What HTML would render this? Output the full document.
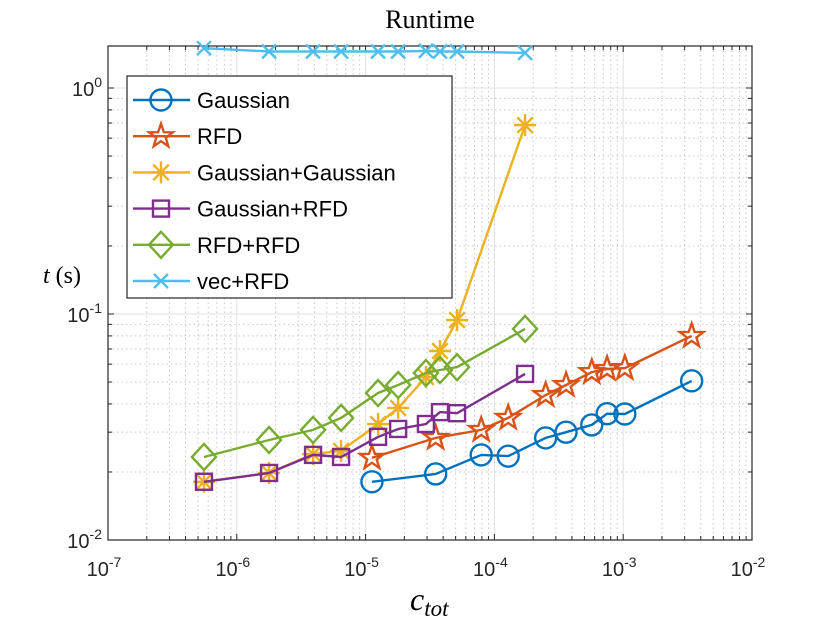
<!DOCTYPE html>
<html><head><meta charset="utf-8"><style>
body{margin:0;background:#fff;}
svg{display:block;}
</style></head><body>
<svg id="chart" width="830" height="623" xmlns="http://www.w3.org/2000/svg"></svg>
<script>
const xTickExps = [-7,-6,-5,-4,-3,-2];
const yTickExps = [-2,-1,0];
const seriesNames = ["Gaussian","RFD","Gaussian+Gaussian","Gaussian+RFD","RFD+RFD","vec+RFD"];
const xGauss = [1.12e-5,3.5e-5,7.9e-5,1.28e-4,2.5e-4,3.6e-4,5.7e-4,7.5e-4,1.03e-3,3.4e-3];
const yGauss = [0.0181,0.0196,0.0238,0.0235,0.0283,0.0300,0.0323,0.0362,0.0361,0.0506];
const xRFD = [1.12e-5,3.5e-5,7.9e-5,1.28e-4,2.5e-4,3.6e-4,5.7e-4,7.5e-4,1.03e-3,3.4e-3];
const yRFD = [0.0231,0.0283,0.0307,0.0347,0.0438,0.0485,0.0553,0.0571,0.0576,0.080];
const xGG = [5.56e-7,1.78e-6,3.91e-6,6.45e-6,1.25e-5,1.79e-5,2.94e-5,3.78e-5,5.13e-5,1.73e-4];
const yGG = [0.0181,0.0198,0.0240,0.0248,0.0326,0.0384,0.0526,0.0686,0.094,0.685];
const xGR = [5.56e-7,1.78e-6,3.91e-6,6.45e-6,1.25e-5,1.79e-5,2.94e-5,3.78e-5,5.13e-5,1.73e-4];
const yGR = [0.0181,0.0198,0.0238,0.0233,0.0286,0.031,0.0326,0.0368,0.0364,0.0543];
const xRR = [5.56e-7,1.78e-6,3.91e-6,6.45e-6,1.25e-5,1.79e-5,2.94e-5,3.78e-5,5.13e-5,1.73e-4];
const yRR = [0.0233,0.0277,0.0307,0.0347,0.0447,0.0485,0.0548,0.0565,0.0582,0.0859];
const xVec = [5.56e-7,1.78e-6,3.91e-6,6.45e-6,1.25e-5,1.79e-5,2.94e-5,3.78e-5,5.13e-5,1.73e-4];
const yVec = [1.50,1.45,1.45,1.45,1.45,1.45,1.46,1.45,1.45,1.43];

const NS="http://www.w3.org/2000/svg";
const svg=document.getElementById('chart');
const L=108,R=752,T=46,B=540;
const xMinE=-7,xMaxE=-2,yMinE=-2,yTopE=-2+(B-T)/226;
function X(v){return L+(Math.log10(v)-xMinE)/(xMaxE-xMinE)*(R-L);}
function Y(v){return B-(Math.log10(v)-yMinE)/(yTopE-yMinE)*(B-T);}
function el(tag,attrs,parent){const e=document.createElementNS(NS,tag);for(const k in attrs)e.setAttribute(k,attrs[k]);(parent||svg).appendChild(e);return e;}

const grid=el('g',{});


for(let e=xMinE;e<xMaxE;e++){for(let m=2;m<=9;m++){const x=X(m*Math.pow(10,e));el('line',{x1:x,x2:x,y1:T,y2:B,stroke:'#c8c8c8','stroke-width':1,'stroke-dasharray':'1.5,3'},grid);}}
for(let e=yMinE;e<=0;e++){for(let m=2;m<=9;m++){const y=Y(m*Math.pow(10,e));if(y<T)continue;el('line',{x1:L,x2:R,y1:y,y2:y,stroke:'#c8c8c8','stroke-width':1,'stroke-dasharray':'1.5,3'},grid);}}
xTickExps.forEach(e=>{const x=X(Math.pow(10,e));el('line',{x1:x,x2:x,y1:T,y2:B,stroke:'#e0e0e0','stroke-width':1},grid);});
yTickExps.forEach(e=>{const y=Y(Math.pow(10,e));el('line',{x1:L,x2:R,y1:y,y2:y,stroke:'#e0e0e0','stroke-width':1},grid);});

const box=el('rect',{x:L,y:T,width:R-L,height:B-T,fill:'none',stroke:'#262626','stroke-width':1.2});


const ticks=el('g',{stroke:'#262626','stroke-width':1});
for(let e=xMinE;e<=xMaxE;e++){for(let m=1;m<=9;m++){if(e===xMaxE&&m>1)break;const x=X(m*Math.pow(10,e));const len=m===1?6:4;el('line',{x1:x,x2:x,y1:B,y2:B-len},ticks);el('line',{x1:x,x2:x,y1:T,y2:T+len},ticks);}}
for(let e=yMinE;e<=0;e++){for(let m=1;m<=9;m++){const y=Y(m*Math.pow(10,e));if(y<T)break;const len=m===1?6:4;el('line',{x1:L,x2:L+len,y1:y,y2:y},ticks);el('line',{x1:R,x2:R-len,y1:y,y2:y},ticks);}}

function powLabel(x,y,e,anchor,name){
  const t=el('text',{x:x,y:y,'font-family':'Liberation Sans, sans-serif','font-size':20,fill:'#262626','text-anchor':anchor});
  
  
  const a=el('tspan',{},t);a.textContent='10';
  const b=el('tspan',{dy:-9,'font-size':14},t);b.textContent=String(e);
}
xTickExps.forEach(e=>powLabel(X(Math.pow(10,e))-4,576,e,'middle','x-tick-label'));
yTickExps.forEach(e=>powLabel(L-6,Y(Math.pow(10,e))+8,e,'end','y-tick-label'));

const colors=['#0072BD','#D95319','#EDB120','#7E2F8E','#77AC30','#4DBEEE'];
const markers=['circle','star','asterisk','square','diamond','x'];
const xs=[xGauss,xRFD,xGG,xGR,xRR,xVec];
const ys=[yGauss,yRFD,yGG,yGR,yRR,yVec];
function marker(type,cx,cy,c,parent){
  const g=el('g',{stroke:c,'stroke-width':2.4,fill:'none'},parent);
  if(type==='circle')el('circle',{cx:cx,cy:cy,r:10.5},g);
  else if(type==='square')el('rect',{x:cx-8,y:cy-8,width:16,height:16},g);
  else if(type==='diamond')el('polygon',{points:`${cx},${cy-13} ${cx+12},${cy} ${cx},${cy+13} ${cx-12},${cy}`},g);
  else if(type==='x'){el('line',{x1:cx-7,y1:cy-7,x2:cx+7,y2:cy+7},g);el('line',{x1:cx-7,y1:cy+7,x2:cx+7,y2:cy-7},g);}
  else if(type==='asterisk'){for(let i=0;i<4;i++){const a=i*Math.PI/4;el('line',{x1:cx-11*Math.cos(a),y1:cy-11*Math.sin(a),x2:cx+11*Math.cos(a),y2:cy+11*Math.sin(a)},g);}}
  else if(type==='star'){let p=[];for(let i=0;i<10;i++){const r=i%2?5:12.5;const a=-Math.PI/2+i*Math.PI/5;p.push((cx+r*Math.cos(a)).toFixed(1)+','+(cy+r*Math.sin(a)).toFixed(1));}el('polygon',{points:p.join(' ')},g);}
  return g;
}
for(let s=0;s<6;s++){
  const g=el('g',{});
  
  
  const pts=xs[s].map((v,i)=>X(v).toFixed(1)+','+Y(ys[s][i]).toFixed(1)).join(' ');
  el('polyline',{points:pts,fill:'none',stroke:colors[s],'stroke-width':2.4},g);
  xs[s].forEach((v,i)=>{
    const m=marker(markers[s],X(v),Y(ys[s][i]),colors[s],g);
    
    
  });
}

const lg=el('g',{});


el('rect',{x:127,y:76,width:325,height:222,fill:'#fff',stroke:'#262626','stroke-width':1.2},lg);
for(let s=0;s<6;s++){
  const y=100+s*36.2;
  const e=el('g',{},lg);
  
  
  el('line',{x1:133,x2:190,y1:y,y2:y,stroke:colors[s],'stroke-width':2.4},e);
  marker(markers[s],161,y,colors[s],e);
  const t=el('text',{x:197,y:y+8,'font-family':'Liberation Sans, sans-serif','font-size':22,fill:'#000'},e);
  t.textContent=seriesNames[s];
}

const title=el('text',{x:430,y:28,'font-family':'Liberation Serif, serif','font-size':26,'text-anchor':'middle',fill:'#000'});
title.textContent='Runtime';


const yl=el('text',{x:62,y:283,'font-family':'Liberation Serif, serif','font-size':24,'text-anchor':'middle',fill:'#000'});


const yt1=el('tspan',{'font-style':'italic'},yl);yt1.textContent='t';
const yt2=el('tspan',{},yl);yt2.textContent=' (s)';
const xl=el('text',{x:410,y:610,'font-family':'Liberation Serif, serif','font-size':32,'font-style':'italic',fill:'#000'});


const xt1=el('tspan',{},xl);xt1.textContent='c';
const xt2=el('tspan',{'font-size':23,dy:6},xl);xt2.textContent='tot';
</script>
</body></html>
